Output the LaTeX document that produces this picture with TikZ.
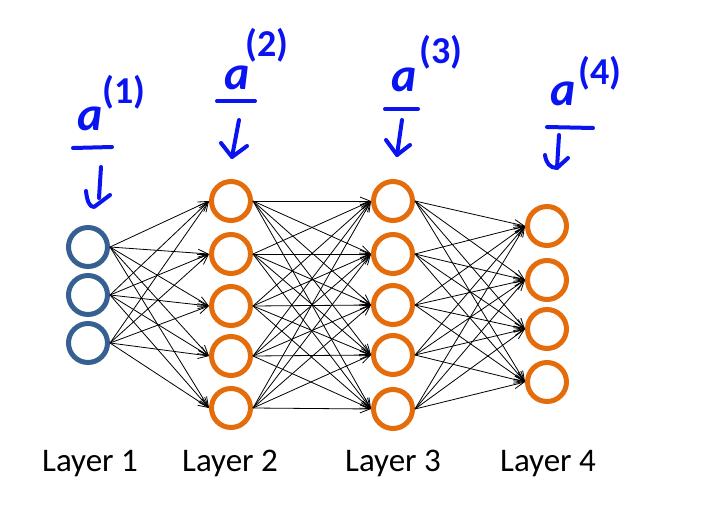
\documentclass[tikz,border=0pt]{standalone}
\usepackage{fontspec}
\setmainfont{Carlito}
\usetikzlibrary{arrows.meta}
\definecolor{inblue}{RGB}{55,96,146}
\definecolor{hidorange}{RGB}{228,108,10}
\definecolor{ink}{RGB}{10,20,240}
\begin{document}
\begin{tikzpicture}[x=1pt,y=-1pt,
  neuronin/.style={circle,draw=inblue,line width=5pt,minimum size=39pt,inner sep=0pt},
  neuronhid/.style={circle,draw=hidorange,line width=5pt,minimum size=39pt,inner sep=0pt},
  conn/.style={draw=black,line width=0.8pt,-{Straight Barb[length=10pt,width=8pt]}},
  layerlabel/.style={font=\fontsize{33}{40}\selectfont,anchor=base,inner sep=0pt},
  inka/.style={text=ink,font=\fontsize{48}{52}\selectfont\bfseries\itshape,anchor=base,inner sep=0pt},
  inksup/.style={text=ink,font=\fontsize{38}{42}\selectfont\bfseries,inner sep=0pt},
  inkstroke/.style={draw=ink,line width=4pt,line cap=round,line join=round}]
\useasboundingbox (0,0) rectangle (701,514);

% layer 1
\foreach \i/\y in {1/247,2/295,3/343}
  \node[neuronin] (in\i) at (88,\y) {};
% layer 2
\foreach \i/\y in {1/201,2/254,3/306,4/356,5/408}
  \node[neuronhid] (hA\i) at (231,\y) {};
% layer 3
\foreach \i/\y in {1/201,2/254,3/305,4/355,5/409}
  \node[neuronhid] (hB\i) at (393,\y) {};
% layer 4
\foreach \i/\y in {1/226,2/280,3/329,4/382}
  \node[neuronhid] (out\i) at (547,\y) {};

% connectors
\foreach \i in {1,2,3}
  \foreach \j in {1,...,5}
    \draw[conn] (in\i.east) -- (hA\j.west);
\foreach \i in {1,...,5}
  \foreach \j in {1,...,5}
    \draw[conn] (hA\i.east) -- (hB\j.west);
\foreach \i in {1,...,5}
  \foreach \j in {1,...,4}
    \draw[conn] (hB\i.east) -- (out\j.west);

% labels
\node[layerlabel] (lab1) at (90,471) {Layer 1};
\node[layerlabel] (lab2) at (230,471) {Layer 2};
\node[layerlabel] (lab3) at (393,471) {Layer 3};
\node[layerlabel] (lab4) at (548,471) {Layer 4};

% handwritten annotations
\node[inka] (aA) at (90,130) {a};
\node[inksup] (sA) at (124,92) {(1)};
\coordinate (barA1) at (73,148); \coordinate (barA2) at (112,147);
\draw[inkstroke] (barA1) -- (barA2);
\coordinate (stA1) at (101,167); \coordinate (stA2) at (99,198);
\draw[inkstroke] (stA1) -- (stA2);
\coordinate (hdA1) at (86,191); \coordinate (hdA2) at (94,207); \coordinate (hdA3) at (110,195);
\draw[inkstroke] (hdA1) .. controls (87,200) and (89,207) .. (hdA2) -- (hdA3);

\node[inka] (aB) at (237,89) {a};
\node[inksup] (sB) at (267,45) {(2)};
\coordinate (barB1) at (217,101); \coordinate (barB2) at (255,101);
\draw[inkstroke] (barB1) -- (barB2);
\coordinate (stB1) at (239,120); \coordinate (stB2) at (232,157);
\draw[inkstroke] (stB1) -- (stB2);
\coordinate (hdB1) at (221,143); \coordinate (hdB3) at (247,146);
\draw[inkstroke] (hdB1) -- (stB2) -- (hdB3);

\node[inka] (aC) at (404,91) {a};
\node[inksup] (sC) at (441,52) {(3)};
\coordinate (barC1) at (385,109); \coordinate (barC2) at (418,109);
\draw[inkstroke] (barC1) -- (barC2);
\coordinate (stC1) at (402,120); \coordinate (stC2) at (397,155);
\draw[inkstroke] (stC1) -- (stC2);
\coordinate (hdC1) at (386,140); \coordinate (hdC3) at (410,145);
\draw[inkstroke] (hdC1) -- (stC2) -- (hdC3);

\node[inka] (aD) at (563,105) {a};
\node[inksup] (sD) at (600,73) {(4)};
\coordinate (barD1) at (547,127); \coordinate (barD2) at (593,128);
\draw[inkstroke] (barD1) -- (barD2);
\coordinate (stD1) at (559,135); \coordinate (stD2) at (557,168);
\draw[inkstroke] (stD1) -- (stD2);
\coordinate (hdD1) at (545,155); \coordinate (hdD3) at (568,158);
\draw[inkstroke] (hdD1) .. controls (546,163) and (550,168) .. (stD2) -- (hdD3);
\end{tikzpicture}
\end{document}
